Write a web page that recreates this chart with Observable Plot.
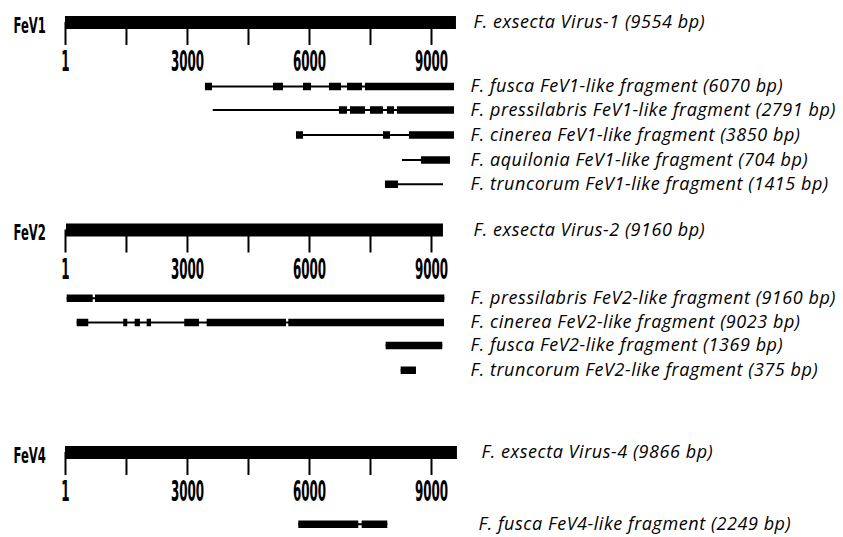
<!DOCTYPE html>
<html><head><meta charset="utf-8">
<script src="https://cdn.jsdelivr.net/npm/d3@7"></script>
<script src="https://cdn.jsdelivr.net/npm/@observablehq/plot@0.6"></script>
<style>body{margin:0;background:#fff}svg{display:block}</style>
</head><body><div id="chart"></div>
<script>
// ---- data ----
const panels = ["FeV1", "FeV2", "FeV4"];
const panelTracks = [0, 8.3, 17.2];
const genomeNames = ["F. exsecta Virus-1 (9554 bp)", "F. exsecta Virus-2 (9160 bp)", "F. exsecta Virus-4 (9866 bp)"];
const genomeStart = [0, 25, 0];
const genomeEnd = [9614, 9294, 9638];
const tickValues = [1, 1500, 3000, 4500, 6000, 7500, 9000];
const tickLabelValues = [1, 3000, 6000, 9000];
const tickLabels = ["1", "3000", "6000", "9000"];

const fragNames = [
  "F. fusca FeV1-like fragment (6070 bp)",
  "F. pressilabris FeV1-like fragment (2791 bp)",
  "F. cinerea FeV1-like fragment (3850 bp)",
  "F. aquilonia FeV1-like fragment (704 bp)",
  "F. truncorum FeV1-like fragment (1415 bp)",
  "F. pressilabris FeV2-like fragment (9160 bp)",
  "F. cinerea FeV2-like fragment (9023 bp)",
  "F. fusca FeV2-like fragment (1369 bp)",
  "F. truncorum FeV2-like fragment (375 bp)",
  "F. fusca FeV4-like fragment (2249 bp)"
];
const fragPanel = ["FeV1", "FeV1", "FeV1", "FeV1", "FeV1", "FeV2", "FeV2", "FeV2", "FeV2", "FeV4"];
const fragTracks = [2.56, 3.5, 4.5, 5.5, 6.47, 11.03, 12.0, 12.92, 13.91, 20.07];
const fragSpan = [
  [3442, 9565], [3632, 9565], [5680, 9565], [8286, 9466], [7868, 9294],
  [42, 9327], [288, 9319], [7885, 9277], [8254, 8630], [5737, 7925]
];
const fragBlocks = [
  [[3442, 3615], [5114, 5360], [5852, 6049], [6491, 6786], [6934, 7303], [7376, 9565]],
  [[6737, 6934], [7008, 7376], [7500, 7819], [7917, 8090], [8163, 9565]],
  [[5680, 5852], [7819, 7991], [8458, 9565]],
  [[8753, 9466]],
  [[7868, 8188]],
  [[42, 681], [738, 9327]],
  [[288, 573], [1433, 1532], [1714, 1844], [2009, 2115], [2933, 3295], [3484, 5434], [5491, 9319]],
  [[7885, 9277]],
  [[8254, 8630]],
  [[5737, 7212], [7295, 7925]]
];

// ---- derived tables ----
const genomes = panels.map((p, i) => ({panel: p, track: panelTracks[i], name: genomeNames[i], start: genomeStart[i], end: genomeEnd[i]}));
const ticks = genomes.flatMap(g => tickValues.map(v => ({v, track: g.track})));
const tickLabs = genomes.flatMap(g => tickLabelValues.map((v, j) => ({v, label: tickLabels[j], track: g.track})));
const frags = fragNames.map((n, i) => ({name: n, panel: fragPanel[i], track: fragTracks[i], start: fragSpan[i][0], end: fragSpan[i][1]}));
const blocks = fragBlocks.flatMap((bs, i) => bs.map(([s, e]) => ({start: s, end: e, track: fragTracks[i]})));
const labelDx = {FeV1: 470, FeV2: 470, FeV4: 478};

const italic = "'Open Sans', sans-serif";
const condensed = "'DejaVu Sans', sans-serif";

const chart = Plot.plot({
  width: 843, height: 537,
  marginTop: 0, marginRight: 0, marginBottom: 0, marginLeft: 0,
  x: {domain: [1, 9000], range: [65, 431], axis: null},
  y: {domain: [0, 20], range: [22, 522], axis: null},
  marks: [
    Plot.ruleY(genomes, {x1: "start", x2: "end", y: "track", stroke: "#000", strokeWidth: 13}),
    Plot.ruleX(ticks, {x: "v", y1: "track", y2: d => d.track + 0.92, stroke: "#000", strokeWidth: 2}),
    Plot.text(tickLabs, {x: "v", y: d => d.track + 1.6, text: "label", fontSize: 28, fontWeight: "bold", fontFamily: condensed, fill: "#000"}),
    Plot.text(genomes, {frameAnchor: "left", y: "track", dx: 13, dy: 3, text: "panel", textAnchor: "start", fontSize: 22, fontWeight: "bold", fontFamily: condensed, fill: "#000"}),
    Plot.text(genomes, {frameAnchor: "left", y: "track", text: "name", textAnchor: "start", fontSize: 18, fontStyle: "italic", fontFamily: italic, fill: "#000"}),
    Plot.ruleY(frags, {x1: "start", x2: "end", y: "track", stroke: "#000", strokeWidth: 2}),
    Plot.ruleY(blocks, {x1: "start", x2: "end", y: "track", stroke: "#000", strokeWidth: 7.5}),
    Plot.text(frags, {frameAnchor: "left", y: "track", text: "name", textAnchor: "start", fontSize: 18, fontStyle: "italic", fontFamily: italic, fill: "#000"})
  ]
});
document.getElementById("chart").appendChild(chart);

// text groups in mark order: tick labels, panel names, genome labels, fragment labels
const textGroups = chart.querySelectorAll('g[aria-label="text"]');
function shift(group, rows, extra) {
  group.querySelectorAll("text").forEach((el, i) => {
    el.style.letterSpacing = "0.55px";
    const t = el.getAttribute("transform") || "";
    el.setAttribute("transform", t + ` translate(${labelDx[rows[i].panel] + extra},0)`);
  });
}
function squeeze(group, perChar) {
  group.querySelectorAll("text").forEach(el => {
    const len = el.getComputedTextLength();
    const n = el.textContent.length;
    const s = (perChar * n) / len;
    const t = el.getAttribute("transform") || "";
    el.setAttribute("transform", t + ` scale(${s.toFixed(3)},1)`);
  });
}
squeeze(textGroups[0], 8.3);
squeeze(textGroups[1], 8.1);
shift(textGroups[2], genomes, 3);
shift(textGroups[3], frags, 0);
</script>
</body></html>
